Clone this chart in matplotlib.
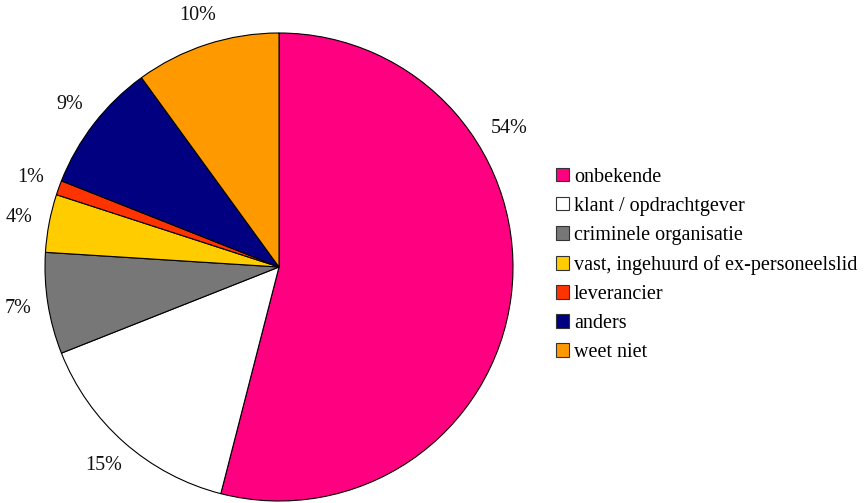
import matplotlib
matplotlib.use('Agg')
import matplotlib.pyplot as plt
from matplotlib.patches import Patch
import numpy as np

labels = ['onbekende', 'klant / opdrachtgever', 'criminele organisatie',
          'vast, ingehuurd of ex-personeelslid', 'leverancier', 'anders', 'weet niet']
values = [54, 15, 7, 4, 1, 9, 10]
colors = ['#FF0080', '#FFFFFF', '#777777', '#FFCC00', '#FF3300', '#000080', '#FF9900']

plt.rcParams['font.family'] = 'Liberation Serif'

fig = plt.figure(figsize=(8.64, 5.03), dpi=100)
cx, cy, r = 279, 267, 234
ax = fig.add_axes([(cx - r) / 864, (503 - cy - r) / 503, 2 * r / 864, 2 * r / 503])
wedges, texts, autotexts = ax.pie(values, colors=colors, startangle=90, counterclock=False,
       autopct='%1.0f%%', pctdistance=1.13, radius=1,
       wedgeprops={'edgecolor': 'black', 'linewidth': 0.8},
       textprops={'fontsize': 14.5, 'color': '#111111'})
# the big slice's label sits up to the right, like the original
a = np.deg2rad(31)
autotexts[0].set_position((1.15 * np.cos(a), 1.15 * np.sin(a)))
ax.set_xlim(-1, 1)
ax.set_ylim(-1, 1)
ax.set_aspect('equal')
ax.axis('off')

handles = [Patch(facecolor=c, edgecolor='#333333', linewidth=0.8) for c in colors]
fig.legend(handles, labels, loc='center left', bbox_to_anchor=(548 / 864, 1 - 265 / 503),
           frameon=False, fontsize=14.5, handlelength=0.64, handleheight=0.64,
           handletextpad=0.25, labelspacing=0.5, borderaxespad=0)

fig.savefig('out.png', dpi=100)
